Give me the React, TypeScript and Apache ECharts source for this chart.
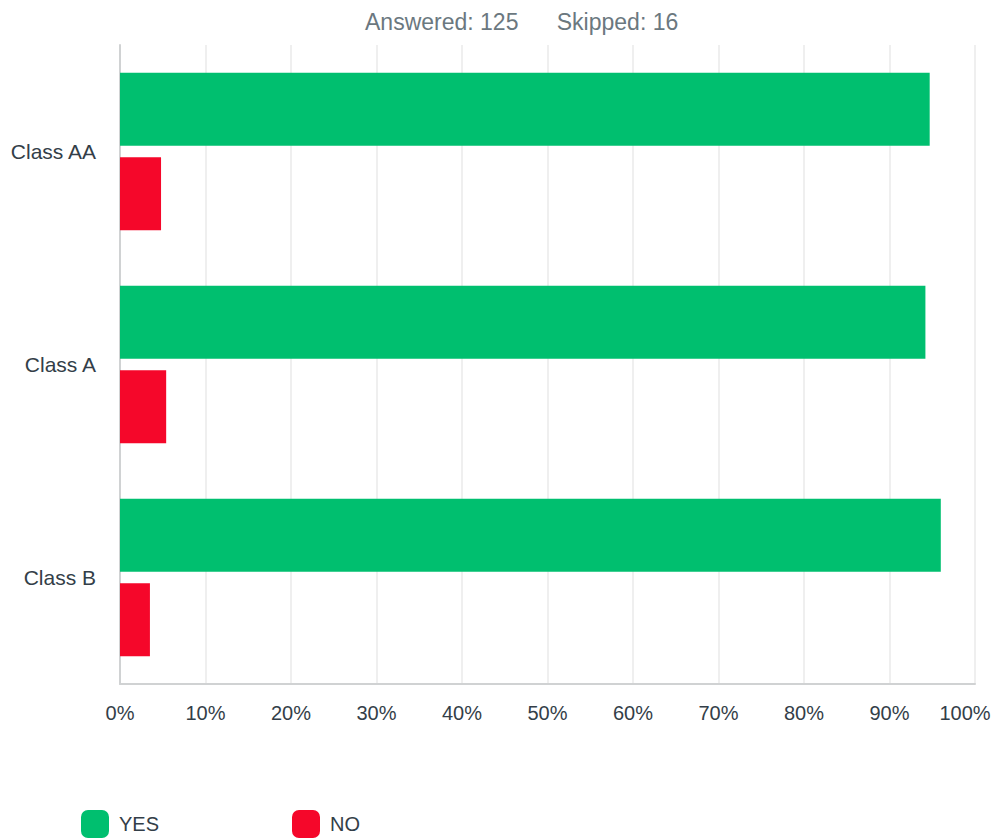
import React, { useEffect, useRef } from "react";
import * as echarts from "echarts";

const categories = ["Class AA", "Class A", "Class B"];
const yesValues = [94.7, 94.2, 96.0];
const noValues = [4.8, 5.4, 3.5];
const xTicks = [0, 10, 20, 30, 40, 50, 60, 70, 80, 90, 100];
const titleText = "Answered: 125      Skipped: 16";

export default function App() {
  const ref = useRef<HTMLDivElement>(null);
  useEffect(() => {
    if (!ref.current) return;
    const chart = echarts.init(ref.current, null, { renderer: "svg" });
    const font = "'Liberation Sans', Arial, sans-serif";
    chart.setOption({
      animation: false,
      textStyle: { fontFamily: font },
      title: {
        text: titleText,
        left: 365,
        top: 10,
        padding: 0,
        textStyle: { fontSize: 23, fontWeight: "normal", color: "#6b787f", fontFamily: font },
      },
      legend: [
        {
          data: ["YES"],
          left: 81,
          top: 810,
          padding: 0,
          itemWidth: 28,
          itemHeight: 28,
          icon: "roundRect",
          itemGap: 10,
          textStyle: { fontSize: 20, color: "#333e48", fontFamily: font, padding: [0, 0, 0, 5] },
        },
        {
          data: ["NO"],
          left: 292,
          top: 810,
          padding: 0,
          itemWidth: 28,
          itemHeight: 28,
          icon: "roundRect",
          itemGap: 10,
          textStyle: { fontSize: 20, color: "#333e48", fontFamily: font, padding: [0, 0, 0, 5] },
        },
      ],
      grid: { left: 120, right: 19, top: 45, bottom: 156, containLabel: false, outerBoundsMode: "none" },
      xAxis: {
        type: "value",
        min: 0,
        max: 100,
        interval: 10,
        axisLine: { show: true, lineStyle: { color: "#d0d2d3", width: 2 } },
        axisTick: { show: false },
        splitLine: { show: true, lineStyle: { color: "#efefef", width: 2 } },
        axisLabel: {
          formatter: (v: number) =>
            xTicks.includes(v) ? (v === 100 ? "{m|" + v + "%}" : v + "%") : "",
          fontSize: 20,
          color: "#333e48",
          margin: 19,
          fontFamily: font,
          rich: {
            m: { fontSize: 20, color: "#333e48", fontFamily: font, padding: [0, 20, 0, 0] },
          },
        },
      },
      yAxis: {
        type: "category",
        data: categories,
        inverse: true,
        axisLine: { show: true, lineStyle: { color: "#d0d2d3", width: 2 } },
        axisTick: { show: false },
        splitLine: { show: false },
        axisLabel: { fontSize: 21, color: "#333e48", margin: 24, fontFamily: font },
      },
      series: [
        {
          name: "YES",
          type: "bar",
          data: yesValues,
          barWidth: 73,
          barGap: "16%",
          itemStyle: { color: "#00bf6f" },
        },
        {
          name: "NO",
          type: "bar",
          data: noValues,
          barWidth: 73,
          barGap: "16%",
          itemStyle: { color: "#f5072a" },
        },
      ],
    });
    return () => chart.dispose();
  }, []);
  return <div ref={ref} style={{ width: 994, height: 840, position: "absolute", left: 0, top: 0 }} />;
}
